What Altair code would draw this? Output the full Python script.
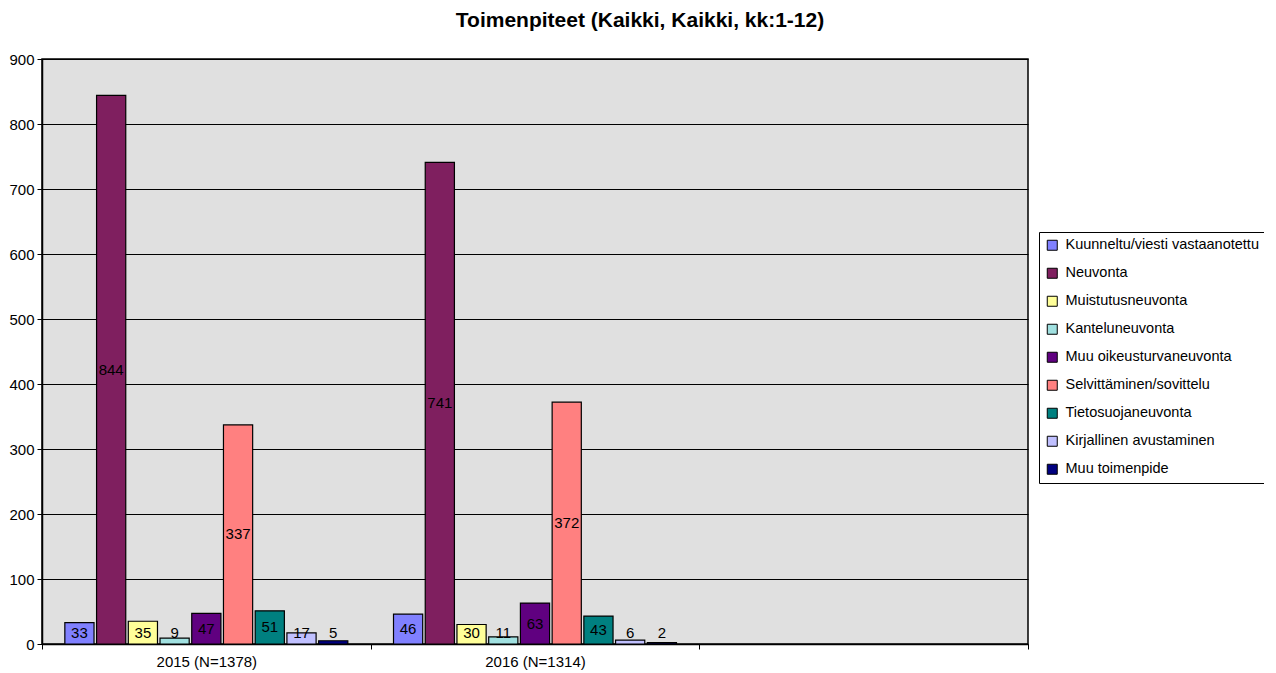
import altair as alt
import pandas as pd

years = ["2015 (N=1378)", "2016 (N=1314)"]
x_domain = ["2015 (N=1378)", "2016 (N=1314)", " "]
series = [
    "Kuunneltu/viesti vastaanotettu",
    "Neuvonta",
    "Muistutusneuvonta",
    "Kanteluneuvonta",
    "Muu oikeusturvaneuvonta",
    "Selvittäminen/sovittelu",
    "Tietosuojaneuvonta",
    "Kirjallinen avustaminen",
    "Muu toimenpide",
]
values_2015 = [33, 844, 35, 9, 47, 337, 51, 17, 5]
values_2016 = [46, 741, 30, 11, 63, 372, 43, 6, 2]
colors = ["#8080FF", "#7F1F5F", "#FFFF99", "#A0E0E0", "#600080",
          "#FF8080", "#008080", "#C0C0FF", "#000080"]
y_ticks = list(range(0, 901, 100))

rows = []
for i, s in enumerate(series):
    rows.append({"year": years[0], "series": s, "order": i, "value": values_2015[i]})
    rows.append({"year": years[1], "series": s, "order": i, "value": values_2016[i]})
df = pd.DataFrame(rows)

FONT = "Liberation Sans"
FS = 15

x_enc = alt.X("year:N", scale=alt.Scale(domain=x_domain, paddingInner=0, paddingOuter=0),
              axis=alt.Axis(title=None, labelAngle=0, labelFontSize=FS, labelFont=FONT,
                            labelColor="#000000", domainColor="#000000", tickColor="#000000",
                            tickBand="extent", ticks=True, tickSize=5, labelPadding=5,
                            domainWidth=1.5))
xoff = alt.XOffset("series:N", sort=series,
                   scale=alt.Scale(paddingInner=0.08, paddingOuter=0.72))

base = alt.Chart(df)

bars = base.mark_bar(stroke="#000000", strokeWidth=1.2).encode(
    x=x_enc,
    xOffset=xoff,
    y=alt.Y("value:Q", scale=alt.Scale(domain=[0, 900], nice=False),
            axis=alt.Axis(title=None, values=y_ticks, labelFontSize=FS, labelFont=FONT,
                          labelColor="#000000", grid=True, gridColor="#000000",
                          gridWidth=1, domainColor="#000000", tickColor="#000000",
                          tickSize=5, labelPadding=3, domainWidth=1.5)),
    color=alt.Color("series:N", sort=series,
                    scale=alt.Scale(domain=series, range=colors),
                    legend=alt.Legend(title=None, orient="none", legendX=997, legendY=173,
                                      symbolType="square", symbolSize=100,
                                      symbolStrokeColor="#000000", symbolStrokeWidth=1,
                                      labelFontSize=14.5, labelFont=FONT, labelColor="#000000",
                                      rowPadding=12, padding=6, strokeColor="#000000",
                                      fillColor="#FFFFFF", labelLimit=300, labelOffset=6,
                                      symbolOpacity=1)),
)

labels = base.transform_calculate(
    ypos="max(datum.value / 2, 16.5)"
).mark_text(fontSize=FS, font=FONT, color="#000000", baseline="middle").encode(
    x=alt.X("year:N", scale=alt.Scale(domain=x_domain, paddingInner=0, paddingOuter=0)),
    xOffset=xoff,
    y=alt.Y("ypos:Q"),
    text=alt.Text("value:Q"),
)

chart = alt.layer(bars, labels).properties(
    width=986,
    height=585,
    autosize=alt.AutoSizeParams(type="none"),
    padding={"left": 34, "top": 51, "right": 236, "bottom": 29},
    title=alt.TitleParams("Toimenpiteet (Kaikki, Kaikki, kk:1-12)", fontSize=21,
                          font=FONT, fontWeight="bold", color="#000000",
                          anchor="middle", dx=105, offset=21),
).configure_view(fill="#E0E0E0", stroke="#000000", strokeWidth=1.5)

chart.save("out.html", embed_options={"renderer": "svg", "actions": False})
